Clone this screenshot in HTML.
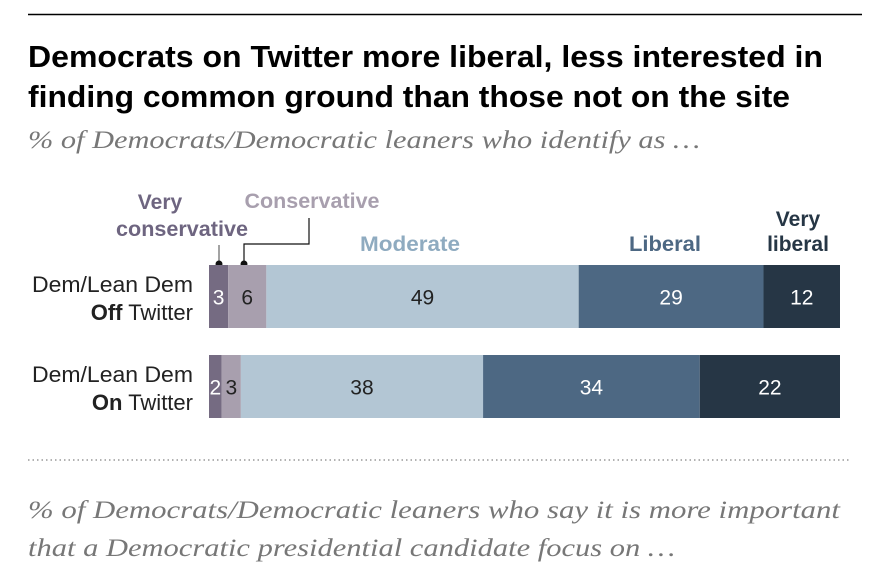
<!DOCTYPE html>
<html><head><meta charset="utf-8"><style>
html,body{margin:0;padding:0;background:#fff;width:878px;height:586px;overflow:hidden}
svg{display:block}
.t{font-family:"Liberation Sans",Arial,sans-serif;font-weight:bold;font-size:31px;fill:#000}
.sub{font-family:"Liberation Serif",Georgia,serif;font-style:italic;font-size:25px;fill:#777}
.lbl{font-family:"Liberation Sans",Arial,sans-serif;font-size:22px;fill:#222}
.cat{font-family:"Liberation Sans",Arial,sans-serif;font-weight:bold;font-size:21px}
.val{font-family:"Liberation Sans",Arial,sans-serif;font-size:21px}
</style></head><body>
<svg id="c" width="878" height="586">
<line x1="28" y1="14.5" x2="862" y2="14.5" stroke="#000" stroke-width="1.5"/>
<text class="t" x="28" y="67" textLength="795" lengthAdjust="spacingAndGlyphs">Democrats on Twitter more liberal, less interested in</text>
<text class="t" x="28" y="107" textLength="762" lengthAdjust="spacingAndGlyphs">finding common ground than those not on the site</text>
<text class="sub" x="28" y="148" textLength="672" lengthAdjust="spacingAndGlyphs">% of Democrats/Democratic leaners who identify as …</text>
<text class="cat" x="160" y="209" text-anchor="middle" fill="#6e6580">Very</text>
<text class="cat" x="182" y="236" text-anchor="middle" fill="#6e6580" textLength="132" lengthAdjust="spacingAndGlyphs">conservative</text>
<text class="cat" x="312" y="208" text-anchor="middle" fill="#a89fae" textLength="135" lengthAdjust="spacingAndGlyphs">Conservative</text>
<text class="cat" x="410" y="251" text-anchor="middle" fill="#8fabc0" textLength="100" lengthAdjust="spacingAndGlyphs">Moderate</text>
<text class="cat" x="665" y="251" text-anchor="middle" fill="#4d6883" textLength="72" lengthAdjust="spacingAndGlyphs">Liberal</text>
<text class="cat" x="798" y="226" text-anchor="middle" fill="#263645">Very</text>
<text class="cat" x="798" y="251" text-anchor="middle" fill="#263645">liberal</text>
<line x1="219" y1="245" x2="219" y2="264" stroke="#666" stroke-width="1.2"/>
<circle cx="219" cy="264" r="3.5" fill="#111"/>
<polyline points="244,264 244,244 309,244 309,218" fill="none" stroke="#111" stroke-width="1.2"/>
<circle cx="244" cy="264" r="3.5" fill="#111"/>
<g id="bars"></g>
<line x1="28" y1="460" x2="850" y2="460" stroke="#999" stroke-width="1.5" stroke-dasharray="1.5,3"/>
<text class="sub" x="28" y="518" textLength="812" lengthAdjust="spacingAndGlyphs">% of Democrats/Democratic leaners who say it is more important</text>
<text class="sub" x="28" y="556" textLength="647" lengthAdjust="spacingAndGlyphs">that a Democratic presidential candidate focus on …</text>
</svg>
<script>
const categories = ["Dem/Lean Dem Off Twitter","Dem/Lean Dem On Twitter"];
const veryConservative = [3, 2];
const conservative = [6, 3];
const moderate = [49, 38];
const liberal = [29, 34];
const veryLiberal = [12, 22];
const series=[veryConservative,conservative,moderate,liberal,veryLiberal];
const names=["very-conservative","conservative","moderate","liberal","very-liberal"];
const colors=["#756b82","#a89fae","#b3c6d4","#4d6883","#263645"];
const txt=["#fff","#222","#222","#fff","#fff"];
const x0=209, scale=631/99, rowY=[265,355], barH=63;
const x=v=>x0+v*scale;
const g=document.getElementById('bars');
const NS="http://www.w3.org/2000/svg";
categories.forEach((c,i)=>{
  const y=rowY[i];
  const l1=document.createElementNS(NS,'text');
  l1.setAttribute('class','lbl');l1.setAttribute('x',32);l1.setAttribute('y',y+27);
  l1.setAttribute('textLength',161);l1.setAttribute('lengthAdjust','spacingAndGlyphs');
  l1.textContent="Dem/Lean Dem";
  
  
  g.appendChild(l1);
  const l2=document.createElementNS(NS,'text');
  l2.setAttribute('class','lbl');l2.setAttribute('x',193);l2.setAttribute('y',y+55);l2.setAttribute('text-anchor','end');
  l2.innerHTML=(i==0?'<tspan font-weight="bold">Off</tspan>':'<tspan font-weight="bold">On</tspan>')+" Twitter";
  
  
  g.appendChild(l2);
  let cum=0;
  series.forEach((s,k)=>{
    const v=s[i];
    const r=document.createElementNS(NS,'rect');
    r.setAttribute('x',x(cum));r.setAttribute('y',y);r.setAttribute('width',v*scale);r.setAttribute('height',barH);r.setAttribute('fill',colors[k]);
    
    
    g.appendChild(r);
    const t=document.createElementNS(NS,'text');
    t.setAttribute('class','val');t.setAttribute('x',x(cum+v/2));t.setAttribute('y',y+barH/2+8);t.setAttribute('text-anchor','middle');t.setAttribute('fill',txt[k]);
    t.textContent=v;
    
    
    g.appendChild(t);
    cum+=v;
  });
});
</script>
</body></html>
